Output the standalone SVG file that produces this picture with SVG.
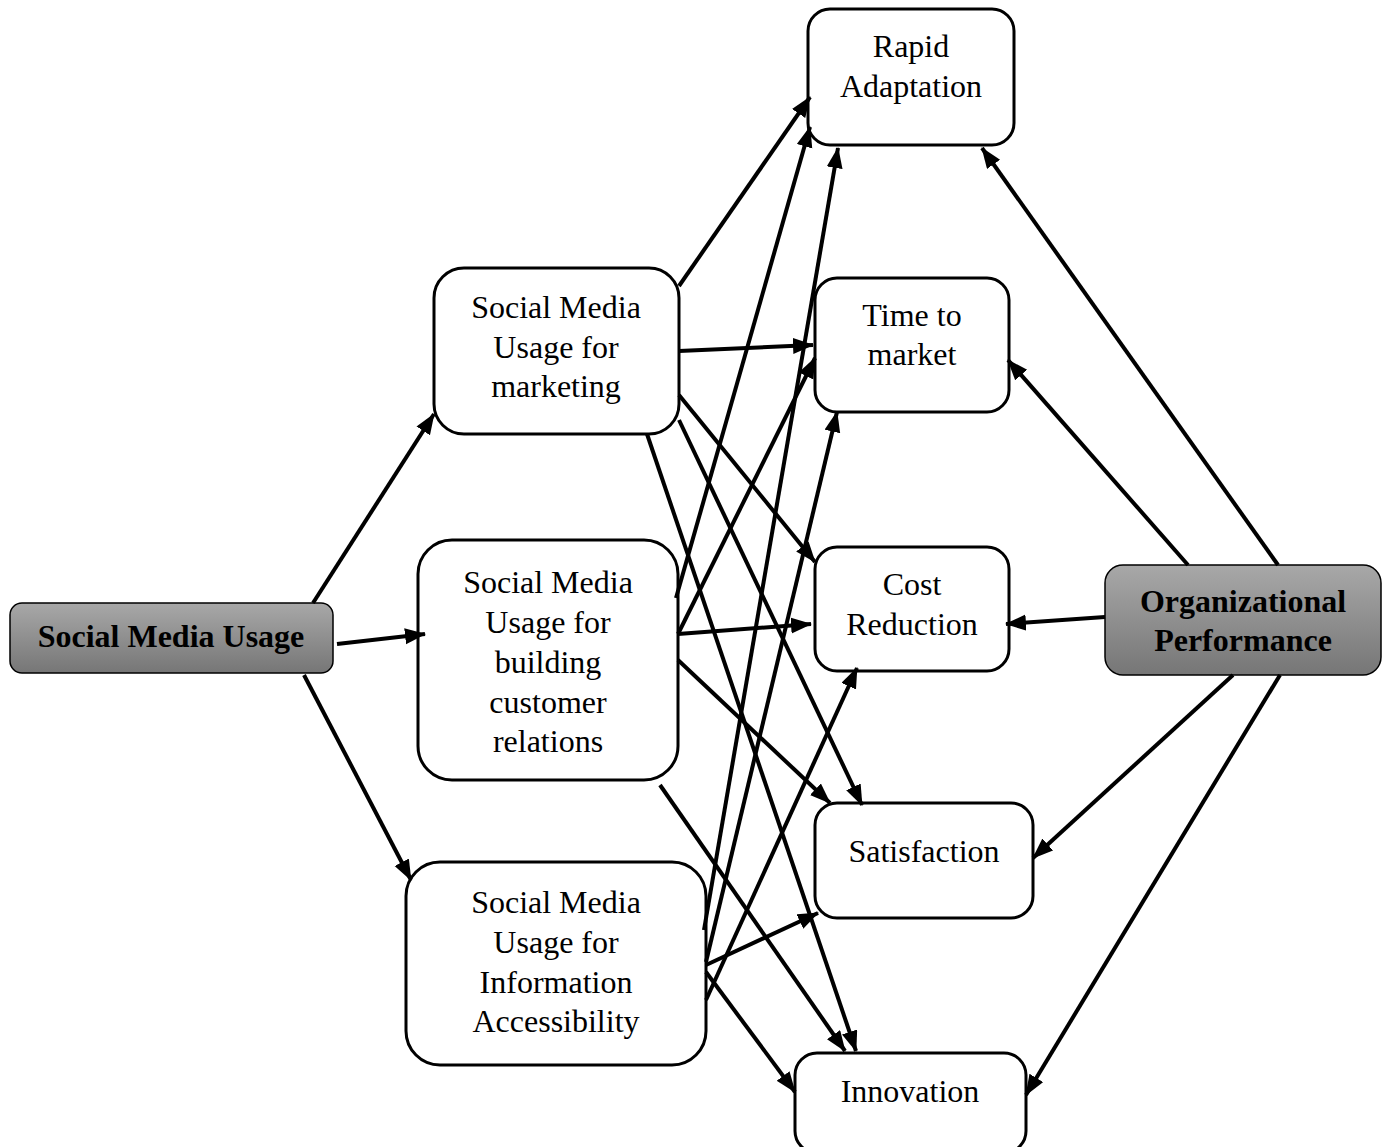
<svg xmlns="http://www.w3.org/2000/svg" width="1388" height="1147" viewBox="0 0 1388 1147">
<defs>
<linearGradient id="g" x1="0" y1="0" x2="0" y2="1">
<stop offset="0" stop-color="#a8a8a8"/>
<stop offset="1" stop-color="#767676"/>
</linearGradient>
<marker id="ah" markerUnits="userSpaceOnUse" markerWidth="22" markerHeight="18" refX="20" refY="8" orient="auto">
<path d="M0,0 L21,8 L0,16 z" fill="#000"/>
</marker>
<style>
.box{fill:#fff;stroke:#000;stroke-width:3}
.dark{fill:url(#g);stroke:#000;stroke-width:1.5}
text{font-family:'Liberation Serif','DejaVu Serif',serif;font-size:32px;text-anchor:middle;fill:#000}
.b{font-weight:bold}
.c line{stroke:#000;stroke-width:4;marker-end:url(#ah)}
</style>
</defs>
<rect width="1388" height="1147" fill="#fff"/>
<g id="n-smu"><rect class="dark" x="10" y="603" width="323" height="70" rx="12"/><text class="b" x="171" y="647">Social Media Usage</text></g>
<g id="n-org"><rect class="dark" x="1105" y="565" width="276" height="110" rx="18"/><text class="b" x="1243" y="612">Organizational</text><text class="b" x="1243" y="651">Performance</text></g>
<g id="n-mkt"><rect class="box" x="434" y="268" width="245" height="166" rx="30"/><text x="556" y="318">Social Media</text><text x="556" y="358">Usage for</text><text x="556" y="397">marketing</text></g>
<g id="n-bcr"><rect class="box" x="418" y="540" width="260" height="240" rx="34"/><text x="548" y="593">Social Media</text><text x="548" y="633">Usage for</text><text x="548" y="673">building</text><text x="548" y="713">customer</text><text x="548" y="752">relations</text></g>
<g id="n-info"><rect class="box" x="406" y="862" width="300" height="203" rx="34"/><text x="556" y="913">Social Media</text><text x="556" y="953">Usage for</text><text x="556" y="993">Information</text><text x="556" y="1032">Accessibility</text></g>
<g id="n-rapid"><rect class="box" x="808" y="9" width="206" height="136" rx="22"/><text x="911" y="57">Rapid</text><text x="911" y="97">Adaptation</text></g>
<g id="n-ttm"><rect class="box" x="815" y="278" width="194" height="134" rx="22"/><text x="912" y="326">Time to</text><text x="912" y="365">market</text></g>
<g id="n-cost"><rect class="box" x="815" y="547" width="194" height="124" rx="22"/><text x="912" y="595">Cost</text><text x="912" y="635">Reduction</text></g>
<g id="n-sat"><rect class="box" x="815" y="803" width="218" height="115" rx="22"/><text x="924" y="862">Satisfaction</text></g>
<g id="n-inn"><rect class="box" x="795" y="1053" width="231" height="100" rx="22"/><text x="910" y="1102">Innovation</text></g>
<g id="connectors" class="c">
<line x1="313" y1="603" x2="434" y2="414"/>
<line x1="337" y1="644" x2="425" y2="634"/>
<line x1="304" y1="675" x2="411" y2="880"/>
<line x1="679" y1="286" x2="810" y2="97"/>
<line x1="679" y1="351" x2="813" y2="345"/>
<line x1="679" y1="395" x2="815" y2="562"/>
<line x1="679" y1="420" x2="862" y2="805"/>
<line x1="647" y1="434" x2="856" y2="1051"/>
<line x1="676" y1="598" x2="810" y2="127"/>
<line x1="678" y1="634" x2="815" y2="358"/>
<line x1="678" y1="634" x2="811" y2="624"/>
<line x1="678" y1="660" x2="830" y2="803"/>
<line x1="660" y1="785" x2="845" y2="1051"/>
<line x1="704" y1="930" x2="838" y2="148"/>
<line x1="706" y1="962" x2="837" y2="412"/>
<line x1="706" y1="965" x2="818" y2="913"/>
<line x1="706" y1="1000" x2="857" y2="668"/>
<line x1="706" y1="972" x2="795" y2="1092"/>
<line x1="1278" y1="565" x2="982" y2="148"/>
<line x1="1188" y1="565" x2="1008" y2="360"/>
<line x1="1105" y1="617" x2="1006" y2="624"/>
<line x1="1233" y1="675" x2="1033" y2="858"/>
<line x1="1280" y1="675" x2="1026" y2="1095"/>
</g>
</svg>
